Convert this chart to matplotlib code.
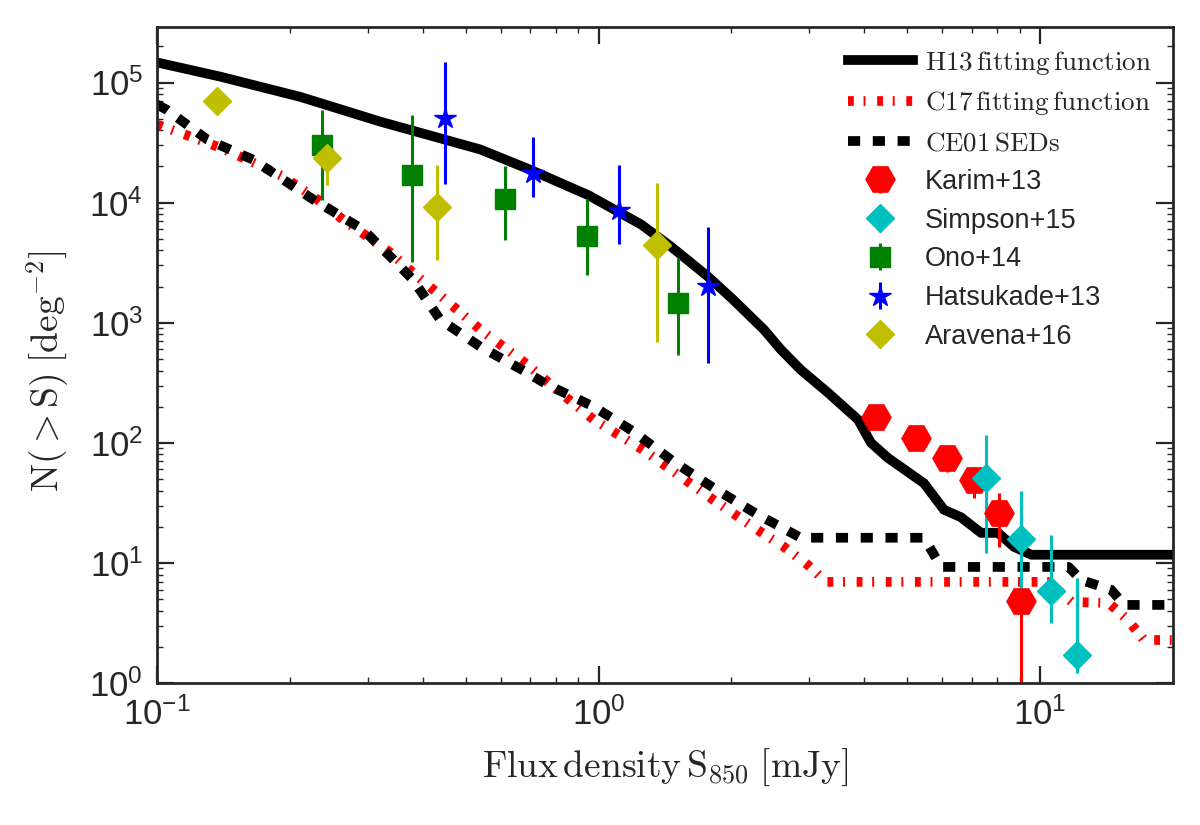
import matplotlib
matplotlib.use("Agg")
import matplotlib.pyplot as plt
import numpy as np

# fitting functions / model curves
h13_s = [0.1, 0.139, 0.211, 0.32, 0.54, 0.70, 0.95, 1.25, 1.46, 1.77, 2.02, 2.37, 2.59,
         2.87, 3.31, 3.87, 4.14, 4.52, 5.46, 6.06, 6.62, 7.35, 8.03, 8.73, 9.55, 20]
h13_n = [1.47e5, 1.12e5, 7.6e4, 4.73e4, 2.77e4, 1.88e4, 1.15e4, 6.56e3, 4.3e3, 2.42e3, 1.55e3,
         875, 596, 406, 261, 156, 100, 75, 46, 27.7, 24, 17.8, 17.8, 13.6, 11.7, 11.7]

c17_s = [0.1, 0.119, 0.139, 0.160, 0.193, 0.231, 0.264, 0.338, 0.380, 0.479, 0.540, 0.609,
         0.690, 0.820, 0.975, 1.26, 1.43, 1.82, 2.33, 2.63, 2.98, 3.27, 10.4, 11.8, 14.3,
         15.8, 17.2, 20]
c17_n = [4.47e4, 3.55e4, 2.87e4, 2.28e4, 1.65e4, 1.06e4, 7.2e3, 3.83e3, 2.61e3, 1.28e3, 875,
         631, 447, 261, 156, 87.5, 63, 33.5, 18.1, 13.6, 9.6, 6.95, 6.95, 4.73, 4.64, 3.35,
         2.28, 2.28]

ce01_s = [0.1, 0.105, 0.130, 0.165, 0.226, 0.293, 0.343, 0.380, 0.438, 0.540, 0.690, 0.766,
          0.975, 1.20, 1.48, 1.82, 2.30, 2.87, 5.46, 5.97, 11.6, 12.4, 14.5, 15.5, 20]
ce01_n = [6.56e4, 5.96e4, 3.35e4, 2.28e4, 1.06e4, 5.96e3, 3.35e3, 2.28e3, 1.06e3, 631, 383,
          304, 200, 124, 69.5, 42.2, 25.1, 16.2, 16.2, 9.26, 9.26, 7.2, 5.96, 4.47, 4.47]

# observed number counts
karim_s = [4.25, 5.23, 6.15, 7.08, 8.07, 9.06]
karim_n = [165, 110, 75, 49, 26.1, 4.82]
karim_lo = [25, 20, 18, 14, 12.5, 4.82]
karim_hi = [25, 20, 18, 14, 12, 6]

simpson_s = [7.55, 9.06, 10.6, 12.1]
simpson_n = [51, 15.8, 5.85, 1.71]
simpson_lo = [38.9, 10.9, 2.69, 0.5]
simpson_hi = [66, 24, 11.3, 5.8]

ono_s = [0.237, 0.379, 0.615, 0.944, 1.51]
ono_n = [3.04e4, 1.71e4, 1.08e4, 5.31e3, 1.47e3]
ono_lo = [1.98e4, 1.39e4, 5.9e3, 2.8e3, 930]
ono_hi = [2.92e4, 3.7e4, 9.2e3, 5.5e3, 2.01e3]

hatsu_s = [0.45, 0.709, 1.11, 1.77]
hatsu_n = [5.11e4, 1.78e4, 8.75e3, 2.03e3]
hatsu_lo = [3.67e4, 6.6e3, 4.2e3, 1.57e3]
hatsu_hi = [9.6e4, 1.77e4, 1.2e4, 4.27e3]

arav_s = [0.137, 0.243, 0.431, 1.36]
arav_n = [6.95e4, 2.37e4, 9.26e3, 4.47e3]
arav_lo = [0, 9.6e3, 5.9e3, 3.78e3]
arav_hi = [0, 1.32e4, 1.14e4, 1.02e4]

plt.rcParams['font.family'] = ['Liberation Sans', 'DejaVu Sans']
plt.rcParams['mathtext.fontset'] = 'custom'
plt.rcParams['mathtext.rm'] = 'Liberation Sans'
plt.rcParams['mathtext.it'] = 'Liberation Sans:italic'
plt.rcParams['mathtext.bf'] = 'Liberation Sans:bold'
dark = '#262626'

fig = plt.figure(figsize=(12, 8.25), dpi=100)
ax = fig.add_axes([0.1308, 0.1721, 0.8467, 0.7952])

ax.plot(h13_s, h13_n, color='k', lw=7, solid_joinstyle='miter',
        label=r'$\mathrm{H13\,fitting\,function}$')
ax.plot(c17_s, c17_n, color='r', lw=7, ls=(0, (0.6, 1.0, 0.2, 1.2)), dash_capstyle='butt',
        label=r'$\mathrm{C17\,fitting\,function}$')
ax.plot(ce01_s, ce01_n, color='k', lw=7, ls=(0, (1.25, 1.3)), dash_capstyle='butt',
        label=r'$\mathrm{CE01\,SEDs}$')

ax.errorbar(karim_s, karim_n, yerr=[karim_lo, karim_hi], fmt='H', color='r', ms=21,
            elinewidth=2.2, capsize=0, label='Karim+13')
ax.errorbar(simpson_s, simpson_n, yerr=[simpson_lo, simpson_hi], fmt='D', color='c', ms=14,
            elinewidth=2.2, capsize=0, label='Simpson+15')
ax.errorbar(ono_s, ono_n, yerr=[ono_lo, ono_hi], fmt='s', color='g', ms=15,
            elinewidth=2.2, capsize=0, label='Ono+14')
ax.errorbar(hatsu_s, hatsu_n, yerr=[hatsu_lo, hatsu_hi], fmt='*', color='b', ms=16,
            elinewidth=2.2, capsize=0, label='Hatsukade+13')
ax.errorbar(arav_s, arav_n, yerr=[arav_lo, arav_hi], fmt='D', color='y', ms=14,
            elinewidth=2.2, capsize=0, label='Aravena+16')

ax.set_xscale('log')
ax.set_yscale('log')
ax.set_xlim(0.1, 20)
ax.set_ylim(1, 2.9e5)

for sp in ax.spines.values():
    sp.set_color(dark)
    sp.set_linewidth(2)
ax.tick_params(which='both', direction='in', top=True, right=True, colors=dark,
               labelsize=25, pad=10)
ax.tick_params(which='major', length=12, width=1.6)
ax.tick_params(which='minor', length=4.5, width=1)
ax.xaxis.set_minor_locator(matplotlib.ticker.LogLocator(base=10, subs=np.arange(2, 10), numticks=20))
ax.yaxis.set_minor_locator(matplotlib.ticker.LogLocator(base=10, subs=np.arange(2, 10), numticks=20))

xl = ax.set_xlabel(r'$\mathrm{Flux\,density\,S_{850}\;[mJy]}$', fontsize=27, color=dark)
xl.set_math_fontfamily('cm')
yl = ax.set_ylabel(r'$\mathrm{N(>S)\;[deg^{-2}]}$', fontsize=27, color=dark)
yl.set_math_fontfamily('cm')
ax.xaxis.set_label_coords(0.5, -0.097)
ax.yaxis.set_label_coords(-0.084, 0.475)

leg = ax.legend(loc='upper right', frameon=False, fontsize=19.5, handlelength=2.4,
                handletextpad=0.45, labelspacing=0.47, borderaxespad=0.4, numpoints=1)
for t in leg.get_texts()[:3]:
    t.set_math_fontfamily('cm')
for t in leg.get_texts():
    t.set_color(dark)

fig.savefig('out.png', dpi=100)
